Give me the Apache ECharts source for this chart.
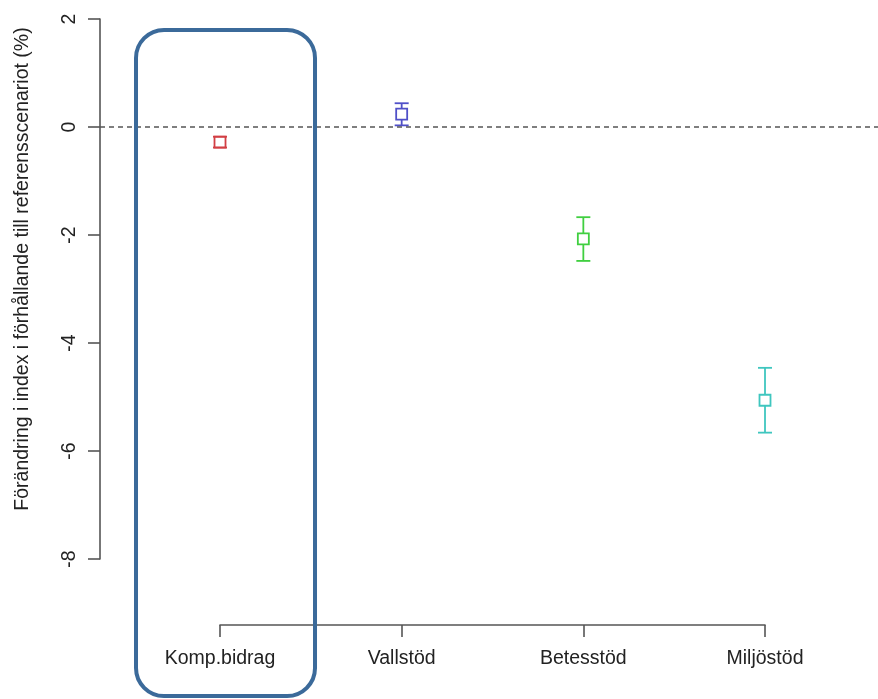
<!DOCTYPE html>
<html>
<head>
<meta charset="utf-8">
<script src="https://cdn.jsdelivr.net/npm/echarts@6/dist/echarts.min.js"></script>
<style>
html,body{margin:0;padding:0;background:#fff;}
#chart{width:878px;height:699px;}
</style>
</head>
<body>
<div id="chart"></div>
<script>
const categories = ['Komp.bidrag', 'Vallstöd', 'Betesstöd', 'Miljöstöd'];
const means  = [-0.28, 0.24, -2.07, -5.06];
const lowers = [-0.38, 0.03, -2.48, -5.66];
const uppers = [-0.18, 0.44, -1.67, -4.46];
const colors = ['#d23f44', '#5050c8', '#40cf40', '#3fc6bf'];
const yTitle = 'Förändring i index i förhållande till referensscenariot (%)';
const yMin = -8, yMax = 2, yStep = 2;

const FONT = '"Liberation Sans", Arial, Helvetica, sans-serif';
const FS = 19.5;

const chart = echarts.init(document.getElementById('chart'), null, {renderer: 'canvas'});

const pointData = categories.map((c, i) => [i, means[i], lowers[i], uppers[i]]);

const option = {
  animation: false,
  backgroundColor: '#ffffff',
  grid: [
    {left: 100, right: 0, top: 19, bottom: 140},
    {left: 220, right: 113, top: 560, bottom: 74}
  ],
  xAxis: [
    {type: 'value', gridIndex: 0, min: -0.6606, max: 3.622, show: false},
    {
      type: 'category', gridIndex: 1, data: categories, boundaryGap: false,
      axisLine: {show: true, onZero: false, lineStyle: {color: '#555', width: 1.6}},
      axisTick: {show: true, length: 12, inside: false, alignWithLabel: true, lineStyle: {color: '#555', width: 1.6}},
      axisLabel: {color: '#222', fontFamily: FONT, fontSize: FS, margin: 24},
      splitLine: {show: false}
    }
  ],
  yAxis: [
    {
      type: 'value', gridIndex: 0, min: yMin, max: yMax, interval: yStep,
      axisLine: {show: true, onZero: false, lineStyle: {color: '#555', width: 1.6}},
      axisTick: {show: true, length: 12, lineStyle: {color: '#555', width: 1.6}},
      axisLabel: {color: '#222', fontFamily: FONT, fontSize: FS, rotate: 90, margin: 20},
      splitLine: {show: false}
    },
    {type: 'value', gridIndex: 1, show: false, min: 0, max: 1}
  ],
  series: [
    {
      type: 'custom',
      xAxisIndex: 0, yAxisIndex: 0,
      data: pointData,
      clip: false,
      renderItem: function (params, api) {
        const i = api.value(0);
        const c = api.coord([i, api.value(1)]);
        const lo = api.coord([i, api.value(2)]);
        const hi = api.coord([i, api.value(3)]);
        const col = colors[params.dataIndex];
        const half = 5.5, cap = 7;
        const st = {stroke: col, lineWidth: 1.8, fill: null};
        const children = [
          {type: 'line', shape: {x1: c[0] - cap, y1: hi[1], x2: c[0] + cap, y2: hi[1]}, style: st},
          {type: 'line', shape: {x1: c[0] - cap, y1: lo[1], x2: c[0] + cap, y2: lo[1]}, style: st},
          {type: 'rect', shape: {x: c[0] - half, y: c[1] - half, width: half * 2, height: half * 2}, style: st}
        ];
        if (hi[1] < c[1] - half) {
          children.push({type: 'line', shape: {x1: c[0], y1: hi[1], x2: c[0], y2: c[1] - half}, style: st});
        }
        if (lo[1] > c[1] + half) {
          children.push({type: 'line', shape: {x1: c[0], y1: c[1] + half, x2: c[0], y2: lo[1]}, style: st});
        }
        return {type: 'group', children: children};
      },
      markLine: {
        silent: true,
        symbol: 'none',
        label: {show: false},
        lineStyle: {color: '#555', type: [5, 4], width: 1.6},
        data: [{yAxis: 0}]
      }
    }
  ]
};

chart.setOption(option);

const cx = chart.convertToPixel({xAxisIndex: 0}, 0);
chart.setOption({
  graphic: [
    {
      type: 'text',
      x: 23, y: 269,
      rotation: Math.PI / 2,
      style: {
        text: yTitle,
        fill: '#222',
        font: FS + 'px ' + FONT,
        align: 'center',
        verticalAlign: 'middle'
      }
    },
    {
      type: 'rect',
      shape: {x: cx - 84, y: 30, width: 179, height: 666, r: 28},
      style: {fill: null, stroke: '#3b6a9a', lineWidth: 4},
      z: 10
    }
  ]
});
</script>
</body>
</html>
